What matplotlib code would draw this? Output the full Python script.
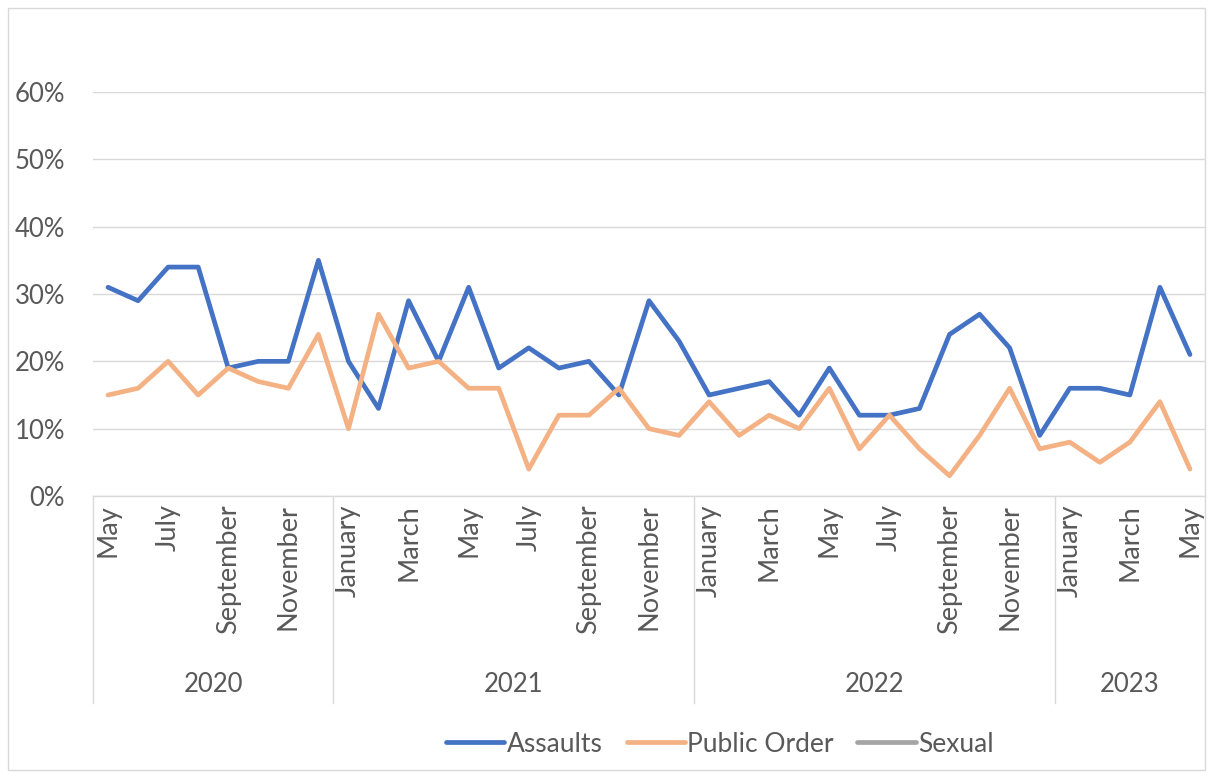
import matplotlib.pyplot as plt
from matplotlib.patches import Rectangle
from matplotlib.ticker import PercentFormatter

plt.rcParams['font.family'] = ['Lato', 'DejaVu Sans']

months = ['May', 'June', 'July', 'August', 'September', 'October', 'November', 'December',
          'January', 'February', 'March', 'April', 'May', 'June', 'July', 'August',
          'September', 'October', 'November', 'December',
          'January', 'February', 'March', 'April', 'May', 'June', 'July', 'August',
          'September', 'October', 'November', 'December',
          'January', 'February', 'March', 'April', 'May']
years = ['2020', '2021', '2022', '2023']
months_per_year = [8, 12, 12, 5]

assaults = [31, 29, 34, 34, 19, 20, 20, 35,
            20, 13, 29, 20, 31, 19, 22, 19, 20, 15, 29, 23,
            15, 16, 17, 12, 19, 12, 12, 13, 24, 27, 22, 9,
            16, 16, 15, 31, 21]
public_order = [15, 16, 20, 15, 19, 17, 16, 24,
                10, 27, 19, 20, 16, 16, 4, 12, 12, 16, 10, 9,
                14, 9, 12, 10, 16, 7, 12, 7, 3, 9, 16, 7,
                8, 5, 8, 14, 4]
sexual = []  # no values shown on the chart

grey = '#595959'
W, H = 1208, 774
fig = plt.figure(figsize=(W / 100, H / 100), dpi=100)
fig.patches.append(Rectangle((8 / W, 4 / H), 1197 / W, 762 / H, transform=fig.transFigure,
                             fill=False, edgecolor='#D9D9D9', linewidth=1))

left, right, top, bottom = 93, 1205, 92, 496
ax = fig.add_axes([left / W, 1 - bottom / H, (right - left) / W, (bottom - top) / H])

x = list(range(len(months)))
ax.plot(x, [v / 100 for v in assaults], color='#4472C4', lw=3.4, label='Assaults',
        solid_joinstyle='round', solid_capstyle='round')
ax.plot(x, [v / 100 for v in public_order], color='#F4B183', lw=3.4, label='Public Order',
        solid_joinstyle='round', solid_capstyle='round')
ax.plot(list(range(len(sexual))), sexual, color='#A5A5A5', lw=3.4, label='Sexual',
        solid_capstyle='round')

ax.set_xlim(-0.5, len(months) - 0.5)
ax.set_ylim(0, 0.6)
ax.set_yticks([0, 0.1, 0.2, 0.3, 0.4, 0.5, 0.6])
ax.yaxis.set_major_formatter(PercentFormatter(1.0, decimals=0))
ax.grid(axis='y', color='#D9D9D9', lw=1)
ax.set_axisbelow(True)
for s in ax.spines.values():
    s.set_visible(False)
ax.tick_params(axis='y', length=0, pad=20, labelsize=18.5, labelcolor=grey)

ticks = x[::2]
ax.set_xticks(ticks)
ax.set_xticklabels([months[i] for i in ticks], rotation=90, va='top')
ax.tick_params(axis='x', length=0, pad=6, labelsize=19.5, labelcolor=grey)

# multi-level category axis: year separators and year labels
span = (bottom - top)
sep_bottom = -(703 - bottom) / span
trans = ax.get_xaxis_transform()
ax.plot([-0.5, len(months) - 0.5], [0, 0], color='#D9D9D9', lw=1, transform=trans, clip_on=False)
start = -0.5
for yr, n in zip(years, months_per_year):
    end = start + n
    ax.plot([start, start], [0, sep_bottom], color='#D9D9D9', lw=1, transform=trans, clip_on=False)
    ax.text((start + end) / 2, -(685 - bottom) / span, yr, transform=trans,
            ha='center', va='center', fontsize=18.5, color=grey)
    start = end

fig.legend(loc='center', bbox_to_anchor=(720 / W, 1 - 744 / H), ncol=3, frameon=False,
           fontsize=19, labelcolor=grey, handlelength=2.2, handletextpad=0.1,
           columnspacing=0.9)

fig.savefig('out.png', dpi=100)
